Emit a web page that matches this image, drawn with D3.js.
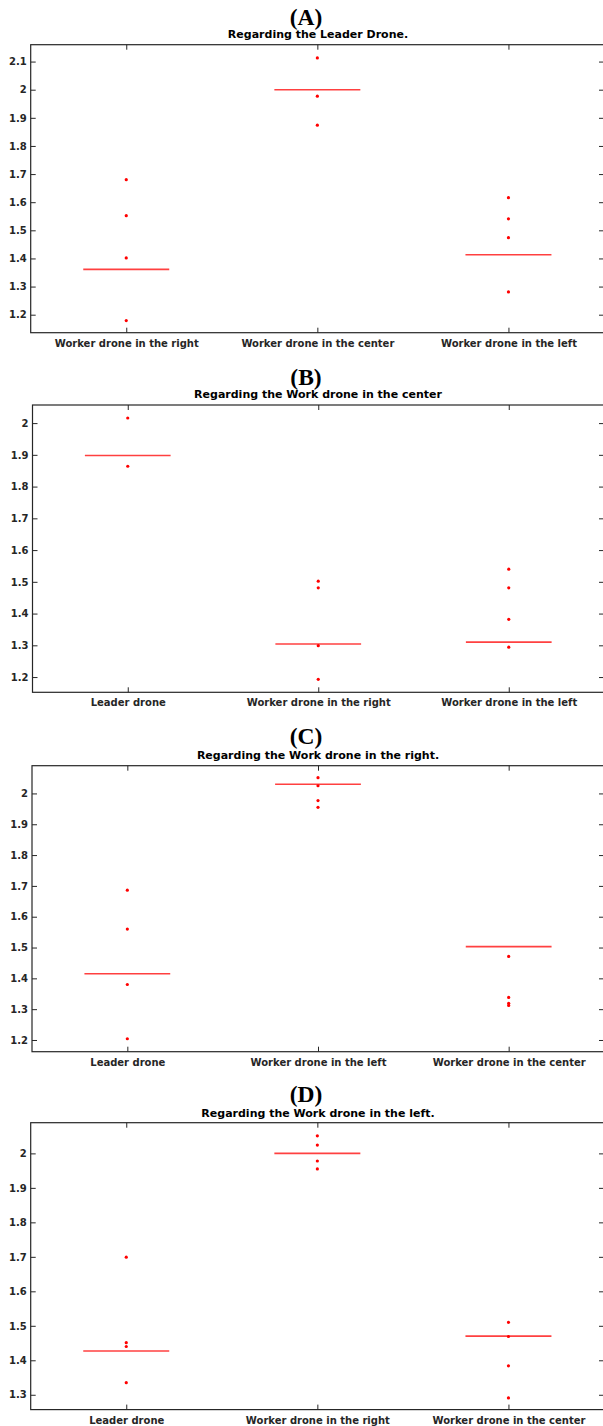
<!DOCTYPE html>
<html><head><meta charset="utf-8">
<script src="https://cdn.jsdelivr.net/npm/d3@7"></script>
<style>html,body{margin:0;padding:0;background:#fff;}svg{display:block;}</style>
</head><body>
<svg id="chart" width="603" height="1426"></svg>
<script>
// ---------------- DATA ----------------
const panelLabels = ["(A)", "(B)", "(C)", "(D)"];
const subtitles = [
  "Regarding the Leader Drone.",
  "Regarding the Work drone in the center",
  "Regarding the Work drone in the right.",
  "Regarding the Work drone in the left."
];
const categoriesA = ["Worker drone in the right", "Worker drone in the center", "Worker drone in the left"];
const categoriesB = ["Leader drone", "Worker drone in the right", "Worker drone in the left"];
const categoriesC = ["Leader drone", "Worker drone in the left", "Worker drone in the center"];
const categoriesD = ["Leader drone", "Worker drone in the right", "Worker drone in the center"];

const pointsA = [[1.680, 1.552, 1.402, 1.179], [2.113, 1.977, 1.874], [1.616, 1.541, 1.474, 1.281]];
const pointsB = [[2.016, 1.864], [1.502, 1.481, 1.299, 1.193], [1.540, 1.481, 1.382, 1.294]];
const pointsC = [[1.686, 1.560, 1.380, 1.204], [2.051, 2.025, 1.977, 1.955], [1.471, 1.338, 1.319, 1.312]];
const pointsD = [[1.699, 1.451, 1.440, 1.335], [2.051, 2.024, 1.978, 1.955], [1.510, 1.469, 1.384, 1.291]];

const mediansA = [1.361, 2.000, 1.413];
const mediansB = [1.898, 1.304, 1.310];
const mediansC = [1.415, 2.030, 1.503];
const mediansD = [1.427, 2.000, 1.470];

const yTicksA = [1.2, 1.3, 1.4, 1.5, 1.6, 1.7, 1.8, 1.9, 2.0, 2.1];
const yTicksB = [1.2, 1.3, 1.4, 1.5, 1.6, 1.7, 1.8, 1.9, 2.0];
const yTicksC = [1.2, 1.3, 1.4, 1.5, 1.6, 1.7, 1.8, 1.9, 2.0];
const yTicksD = [1.3, 1.4, 1.5, 1.6, 1.7, 1.8, 1.9, 2.0];

const yLimitsA = [1.136, 2.160];
const yLimitsB = [1.152, 2.057];
const yLimitsC = [1.162, 2.090];
const yLimitsD = [1.257, 2.089];

// ---------------- LAYOUT ----------------
const layout = [
  {top: 44.7,   bottom: 332.7,  left: 30.7, labelY: 24.5,  subY: 37.5},
  {top: 405,    bottom: 692.3,  left: 32.5, labelY: 384.5, subY: 398},
  {top: 765.7,  bottom: 1051.7, left: 32,   labelY: 744,   subY: 758.7},
  {top: 1122.7, bottom: 1409.6, left: 30.7, labelY: 1102,  subY: 1117}
];
const RIGHT = 604;
const AXC = "#262626";
const RED = "#ff0000";

const panels = [
  {cats: categoriesA, pts: pointsA, med: mediansA, ticks: yTicksA, lim: yLimitsA},
  {cats: categoriesB, pts: pointsB, med: mediansB, ticks: yTicksB, lim: yLimitsB},
  {cats: categoriesC, pts: pointsC, med: mediansC, ticks: yTicksC, lim: yLimitsC},
  {cats: categoriesD, pts: pointsD, med: mediansD, ticks: yTicksD, lim: yLimitsD}
];

const svg = d3.select("#chart");
const fmt = v => (Math.abs(v - Math.round(v)) < 1e-9 ? String(Math.round(v)) : v.toFixed(1));

panels.forEach((p, i) => {
  const L = layout[i];
  const x = d3.scaleLinear().domain([0.5, 3.5]).range([L.left, RIGHT]);
  const y = d3.scaleLinear().domain(p.lim).range([L.bottom, L.top]);
  const g = svg.append("g");

  // panel label
  g.append("text").attr("x", 306).attr("y", L.labelY)
    .attr("text-anchor", "middle")
    .attr("font-family", "'Liberation Serif', 'Times New Roman', serif")
    .attr("font-weight", "bold").attr("font-size", 23.5).attr("fill", "#000")
    .text(panelLabels[i]);
  // subtitle
  g.append("text").attr("x", 318).attr("y", L.subY)
    .attr("text-anchor", "middle")
    .attr("font-family", "'DejaVu Sans', sans-serif")
    .attr("font-weight", "bold").attr("font-size", 11).attr("fill", "#000")
    .text(subtitles[i]);

  // axes
  const tv = [1, 2, 3];
  const xb = g.append("g").attr("transform", `translate(0,${L.bottom})`)
    .call(d3.axisBottom(x).tickValues(tv).tickFormat((d, k) => p.cats[k]).tickSize(-5).tickPadding(7));
  const xt = g.append("g").attr("transform", `translate(0,${L.top})`)
    .call(d3.axisTop(x).tickValues(tv).tickFormat("").tickSize(-5));
  const yl = g.append("g").attr("transform", `translate(${L.left},0)`)
    .call(d3.axisLeft(y).tickValues(p.ticks).tickFormat(fmt).tickSize(-5).tickPadding(4));
  const yr = g.append("g").attr("transform", `translate(${RIGHT},0)`)
    .call(d3.axisRight(y).tickValues(p.ticks).tickFormat("").tickSize(-5));
  [xb, xt, yl, yr].forEach(a => {
    a.select(".domain").remove();
    a.selectAll(".tick line").attr("stroke", AXC).attr("stroke-width", 1);
    a.selectAll(".tick text").attr("fill", AXC)
      .attr("font-family", "'DejaVu Sans', sans-serif")
      .attr("font-weight", "bold").attr("font-size", 10);
  });

  // frame
  g.append("rect").attr("x", L.left).attr("y", L.top)
    .attr("width", RIGHT - L.left).attr("height", L.bottom - L.top)
    .attr("fill", "none").attr("stroke", AXC).attr("stroke-width", 1.2);

  // medians
  g.selectAll(".med").data(p.med).enter().append("line")
    .attr("x1", (d, k) => x(k + 1 - 0.225)).attr("x2", (d, k) => x(k + 1 + 0.225))
    .attr("y1", d => y(d)).attr("y2", d => y(d))
    .attr("stroke", RED).attr("stroke-opacity", 0.75).attr("stroke-width", 1.6);

  // points
  const flat = [];
  p.pts.forEach((arr, k) => arr.forEach(v => flat.push({c: k + 1, v})));
  g.selectAll(".pt").data(flat).enter().append("circle")
    .attr("cx", d => x(d.c)).attr("cy", d => y(d.v)).attr("r", 1.6)
    .attr("fill", RED);
});
</script>
</body></html>
